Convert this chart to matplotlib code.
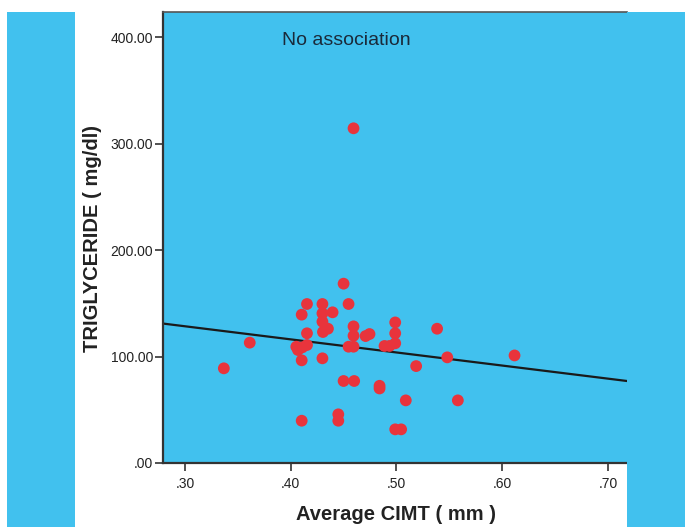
import matplotlib
matplotlib.use("Agg")
import matplotlib.pyplot as plt
import numpy as np
from matplotlib.patches import Rectangle

# data (Average CIMT in mm, Triglyceride in mg/dl)
cimt = [0.450, 0.4154, 0.430, 0.4547, 0.4104, 0.430, 0.4396, 0.430, 0.4594, 0.4352,
        0.4305, 0.4154, 0.4594, 0.4708, 0.4745, 0.4988, 0.4988, 0.3613, 0.4154, 0.4053,
        0.4069, 0.411, 0.4547, 0.4594, 0.4887, 0.4934, 0.4104, 0.430, 0.3368, 0.450,
        0.460, 0.484, 0.484, 0.4104, 0.445, 0.445, 0.4988, 0.5044, 0.4988, 0.5384,
        0.548, 0.5186, 0.6116, 0.5088, 0.558, 0.4594]
tg = [168.4, 149.3, 149.3, 149.3, 139.3, 140.5, 141.5, 132.7, 128.3, 126.1,
      123.0, 121.8, 119.5, 119.2, 121.1, 132.0, 121.8, 113.0, 110.8, 109.2,
      106.1, 108.6, 109.2, 109.2, 109.9, 109.9, 96.4, 98.3, 88.9, 77.0,
      77.0, 72.5, 70.0, 39.7, 45.7, 39.7, 31.6, 31.6, 112.4, 126.1,
      99.2, 91.0, 101.0, 58.8, 58.8, 314.3]

# fit line coefficients
fit_intercept = 165.3
fit_slope = -123.0

x_ticks = [0.30, 0.40, 0.50, 0.60, 0.70]
x_ticklabels = [".30", ".40", ".50", ".60", ".70"]
y_ticks = [0, 100, 200, 300, 400]
y_ticklabels = [".00", "100.00", "200.00", "300.00", "400.00"]

BLUE = "#41C1EE"
RED = "#E8343C"
W, H = 691, 527

fig = plt.figure(figsize=(W / 100, H / 100), dpi=100)
fig.patch.set_facecolor("white")
plt.rcParams['font.family'] = ['Liberation Sans', 'DejaVu Sans']

# side strips
fig.patches.append(Rectangle((7 / W, 0), (75 - 7) / W, (527 - 12) / H,
                             transform=fig.transFigure, facecolor=BLUE, edgecolor="none", zorder=0))
fig.patches.append(Rectangle((627 / W, 0), (685 - 627) / W, (527 - 12) / H,
                             transform=fig.transFigure, facecolor=BLUE, edgecolor="none", zorder=0))

ax = fig.add_axes([163 / W, (527 - 463) / H, (627 - 163) / W, (463 - 12) / H])
ax.set_facecolor(BLUE)
ax.set_xlim(0.2793, 0.7179)
ax.set_ylim(0, 423.5)

ax.scatter(cimt, tg, s=72, color=RED, edgecolors="none", zorder=3)
xl = np.array(ax.get_xlim())
ax.plot(xl, fit_intercept + fit_slope * xl, color="#1a1a1a", lw=1.6, zorder=2)

ax.set_xticks(x_ticks)
ax.set_xticklabels(x_ticklabels)
ax.set_yticks(y_ticks)
ax.set_yticklabels(y_ticklabels)
ax.tick_params(axis="both", direction="out", length=6, width=1.2, color="#333333",
               labelsize=10, labelcolor="#222222")
ax.tick_params(axis="x", pad=4)
ax.tick_params(axis="y", pad=1)

for s in ["left", "bottom"]:
    ax.spines[s].set_color("#333333")
    ax.spines[s].set_linewidth(1.6)
ax.spines["top"].set_color("#555555")
ax.spines["top"].set_linewidth(1.2)
ax.spines["right"].set_visible(False)

ax.text(0.2795 + (346 - 163) / 1060, (463 - 40) / 1.065, "No association",
        ha="center", va="center", fontsize=14, color="#1a2a3a")

fig.text(396 / W, 1 - 515 / H, "Average CIMT ( mm )", ha="center", va="center",
         fontsize=14.5, fontweight="bold", color="#222222")
fig.text(93 / W, 1 - 239 / H, "TRIGLYCERIDE ( mg/dl)", ha="center", va="center",
         rotation=90, fontsize=14.5, fontweight="bold", color="#222222")

fig.savefig("out.png", dpi=100)
